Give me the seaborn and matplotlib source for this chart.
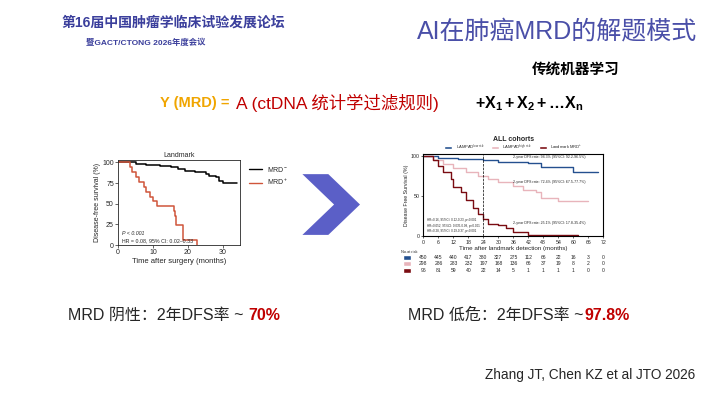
import numpy as np
import pandas as pd
import matplotlib
matplotlib.use("Agg")
import matplotlib.pyplot as plt
import seaborn as sns
from matplotlib.patches import Polygon

sns.set_theme(style="ticks")
plt.rcParams['font.family'] = ['Liberation Sans', 'Noto Sans CJK SC', 'DejaVu Sans']
plt.rcParams['mathtext.fontset'] = 'custom'
plt.rcParams['mathtext.rm'] = 'Liberation Sans'
plt.rcParams['mathtext.bf'] = 'Liberation Sans:bold'
plt.rcParams['mathtext.it'] = 'Liberation Sans:italic'

# Left KM: landmark
neg_t = [0, 3, 5, 8, 12, 15, 17, 19, 22, 25, 26, 28, 29, 30, 34]
neg_s = [100, 100, 98, 97, 96, 94, 92, 90, 88, 86, 84, 82, 78, 75, 75]
pos_t = [0, 3.5, 4, 5, 6, 7.5, 8, 9, 10, 11, 12, 16, 16.3, 16.7, 17, 18.5, 22.5]
pos_s = [100, 94, 88, 82, 76, 70, 64, 58, 53, 47, 47, 41, 35, 24, 24, 6, 0]

# Right KM: all cohorts
low_t = [0, 2, 6, 14, 24, 30, 42, 47, 60, 70]
low_s = [100, 100, 98, 97, 95, 93, 91, 86, 80, 80]
hi_t = [0, 2, 4, 8, 12, 17, 22, 26, 30, 36, 40, 45, 47, 54, 66]
hi_s = [100, 100, 95, 90, 85, 80, 75, 72, 68, 63, 58, 55, 48, 44, 44]
mrd_t = [0, 2, 4, 6, 8, 11, 12, 15, 17, 20, 22, 24, 26, 30, 33, 36, 40, 42, 62]
mrd_s = [100, 100, 95, 88, 80, 72, 62, 55, 45, 35, 28, 22, 15, 14, 10, 5, 5, 2, 2]
risk_times = [0, 6, 12, 18, 24, 30, 36, 42, 48, 54, 60, 66, 72]
risk_low = [450, 445, 440, 417, 380, 327, 275, 112, 66, 22, 16, 3, 0]
risk_hi = [298, 286, 283, 232, 197, 168, 136, 66, 37, 19, 8, 2, 0]
risk_mrd = [96, 81, 59, 40, 22, 14, 5, 1, 1, 1, 1, 0, 0]

fig = plt.figure(figsize=(7.2, 4.05), dpi=100)
fig.patch.set_facecolor("white")

# header
fig.text(0.085, 0.935, "第16届中国肿瘤学临床试验发展论坛", color="#3b3f9c", fontsize=10, fontweight="bold")
fig.text(0.12, 0.89, "暨GACT/CTONG 2026年度会议", color="#3b3f9c", fontsize=6, fontweight="bold")
fig.text(0.774, 0.922, "AI在肺癌MRD的解题模式", color="#4a4fa8", fontsize=18,
         ha="center", va="center")
fig.text(0.80, 0.827, "传统机器学习", color="black", fontsize=10.5, fontweight="bold", ha="center", va="center")
fig.text(0.222, 0.745, "Y (MRD) =", color="#f0a500", fontsize=10.5, fontweight="bold", va="center")
fig.text(0.328, 0.745, "A (ctDNA 统计学过滤规则)", color="#c00000", fontsize=12.5, va="center")
fig.text(0.66, 0.745, r"$\mathbf{+X_1+X_2+\ldots X_n}$", color="black", fontsize=11.5, va="center")

# left KM
ax1 = fig.add_axes([0.164, 0.395, 0.17, 0.21])
sns.lineplot(x=neg_t, y=neg_s, drawstyle="steps-post", color="black", lw=1.1, ax=ax1)
sns.lineplot(x=pos_t, y=pos_s, drawstyle="steps-post", color="#d0553a", lw=1.1, ax=ax1)
ax1.set_xlim(0, 35)
ax1.set_ylim(0, 103)
ax1.set_xticks([0, 10, 20, 30])
ax1.set_yticks([0, 25, 50, 75, 100])
ax1.tick_params(labelsize=5, length=2, width=0.5, pad=1)
ax1.set_title("Landmark", fontsize=5, pad=2)
ax1.set_xlabel("Time after surgery (months)", fontsize=5.5, labelpad=1)
ax1.set_ylabel("Disease-free survival (%)", fontsize=5, labelpad=1)
for s in ax1.spines.values():
    s.set_linewidth(0.6)
ax1.text(1, 12, "P < 0.001", fontsize=3.8, style="italic")
ax1.text(1, 3, "HR = 0.08, 95% CI: 0.02–0.33", fontsize=3.8)
ax1.legend(handles=[plt.Line2D([], [], color="black", lw=1), plt.Line2D([], [], color="#d0553a", lw=1)],
           labels=["MRD$^{-}$", "MRD$^{+}$"], fontsize=5, frameon=False,
           loc="upper left", bbox_to_anchor=(1.02, 1.02), handlelength=1.8)

# arrow chevron
arr = fig.add_axes([0.42, 0.42, 0.08, 0.15])
arr.axis("off")
arr.add_patch(Polygon([[0, 1], [0.45, 1], [1, 0.5], [0.45, 0], [0, 0], [0.55, 0.5]], closed=True,
                      facecolor="#5b5fc7", edgecolor="none"))
arr.set_xlim(0, 1)
arr.set_ylim(0, 1)

# right KM
c_low, c_hi, c_mrd = "#24508f", "#e8b4bb", "#7a0c12"
ax2 = fig.add_axes([0.588, 0.417, 0.25, 0.203])
sns.lineplot(x=low_t, y=low_s, drawstyle="steps-post", color=c_low, lw=1, ax=ax2)
sns.lineplot(x=hi_t, y=hi_s, drawstyle="steps-post", color=c_hi, lw=1, ax=ax2)
sns.lineplot(x=mrd_t, y=mrd_s, drawstyle="steps-post", color=c_mrd, lw=1, ax=ax2)
ax2.axvline(24, color="black", ls="--", lw=0.5)
ax2.set_xlim(0, 72)
ax2.set_ylim(0, 103)
ax2.set_xticks(risk_times)
ax2.set_yticks([0, 50, 100])
ax2.tick_params(labelsize=3.8, length=1.5, width=0.5, pad=1)
ax2.set_xlabel("Time after landmark detection (months)", fontsize=4.5, labelpad=1)
ax2.set_ylabel("Disease Free Survival (%)", fontsize=3.8, labelpad=1)
ax2.set_title("ALL cohorts", fontsize=5, fontweight="bold", pad=9)
ax2.text(36, 98, "2-year DFS rate: 94.3% (95%CI: 92.2-96.5%)", fontsize=2.6)
ax2.text(36, 66, "2-year DFS rate: 72.4% (95%CI: 67.5-77.7%)", fontsize=2.6)
ax2.text(36, 15, "2-year DFS rate: 25.1% (95%CI: 17.8-35.4%)", fontsize=2.6)
ax2.text(1.5, 19, "HR=0.16, 95%CI: 0.12-0.23, p<0.001", fontsize=2.2)
ax2.text(1.5, 12, "HR=0.052, 95%CI: 0.035-0.08, p<0.001", fontsize=2.2)
ax2.text(1.5, 5, "HR=0.28, 95%CI: 0.19-0.37, p<0.001", fontsize=2.2)
ax2.legend(handles=[plt.Rectangle((0, 0), 1, 1, fc=c) for c in (c_low, c_hi, c_mrd)],
           labels=["LAMPAD$^{low\\ risk}$", "LAMPAD$^{high\\ risk}$", "Landmark MRD$^{+}$"],
           fontsize=3, ncol=3, frameon=False, loc="lower center", bbox_to_anchor=(0.5, 0.98),
           handlelength=2, columnspacing=1.5)
for s in ax2.spines.values():
    s.set_linewidth(0.8)
    s.set_color("black")

trans = ax2.get_xaxis_transform()
ax2.text(-9, -0.2, "No.at risk", fontsize=2.8, transform=trans)
for row, (vals, c) in enumerate([(risk_low, c_low), (risk_hi, c_hi), (risk_mrd, c_mrd)]):
    y = -0.255 - row * 0.08
    ax2.add_patch(plt.Rectangle((-8, y - 0.03), 3, 0.06, fc=c, transform=trans, clip_on=False))
    for t, v in zip(risk_times, vals):
        ax2.text(t, y, str(v), fontsize=3.6, ha="center", va="center", transform=trans)

# bottom text
yb = 0.21
fig.text(0.095, yb, "MRD 阴性：2年DFS率 ~ ", fontsize=11.5, va="baseline")
fig.text(0.345, yb, "70%", fontsize=11.5, va="baseline", color="#c00000", fontweight="bold")
fig.text(0.567, yb, "MRD 低危：2年DFS率 ~ ", fontsize=11.5, va="baseline")
fig.text(0.812, yb, "97.8%", fontsize=11.5, va="baseline", color="#c00000", fontweight="bold")
fig.text(0.965, 0.075, "Zhang JT, Chen KZ et al JTO 2026", fontsize=9.8, ha="right", va="center")

fig.savefig("out.png", dpi=100)
